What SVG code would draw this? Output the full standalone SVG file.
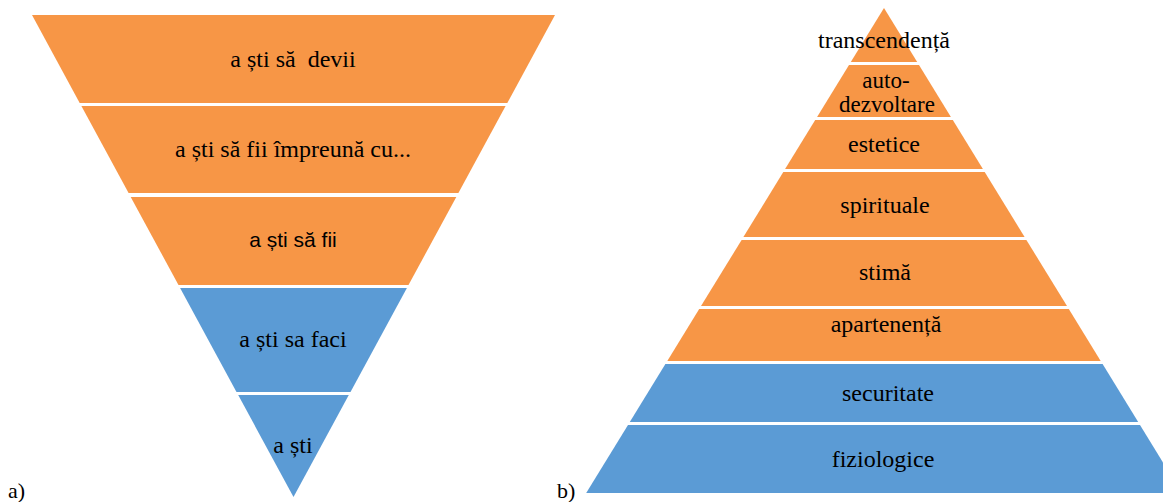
<svg xmlns="http://www.w3.org/2000/svg" width="1163" height="502" viewBox="0 0 1163 502">
<style>
.o{fill:#F79646}
.b{fill:#5B9BD5}
text{font-family:"Liberation Serif","Times New Roman",serif;font-size:24px;fill:#000;text-anchor:middle}
.sans{font-family:"Liberation Sans",Arial,sans-serif;font-size:21px}
.sm{font-size:23px}
.lab{text-anchor:start;font-size:22px}
</style>
<rect width="1163" height="502" fill="#fff"/>
<g id="connectors"/>
<g id="left-pyramid">
<g id="l1"><polygon class="o" points="32,15 555,15 507.3,103 79.7,103"/><text x="293" y="67" xml:space="preserve">a ști să  devii</text></g>
<g id="l2"><polygon class="o" points="81.4,106 505.6,106 458.4,193 128.6,193"/><text x="293" y="157">a ști să fii împreună cu...</text></g>
<g id="l3"><polygon class="o" points="130.7,197 456.3,197 408.5,285 178.5,285"/><text class="sans" x="293" y="247">a ști să fii</text></g>
<g id="l4"><polygon class="b" points="180.1,288 406.9,288 350.5,392 236.5,392"/><text x="293" y="347">a ști sa faci</text></g>
<g id="l5"><polygon class="b" points="238.2,395 348.8,395 293.5,497"/><text x="293" y="453">a ști</text></g>
</g>
<g id="right-pyramid">
<g id="r1"><polygon class="o" points="884,8 917.2,62 850.8,62"/><text x="884" y="48">transcendență</text></g>
<g id="r2"><polygon class="o" points="849,65 919,65 950.9,117 817.1,117"/><text class="sm" x="886" y="88">auto-</text><text class="sm" x="887" y="112">dezvoltare</text></g>
<g id="r3"><polygon class="o" points="815.2,120 952.8,120 982.9,169 785.1,169"/><text x="884" y="152">estetice</text></g>
<g id="r4"><polygon class="o" points="783.3,172 984.7,172 1024.6,237 743.4,237"/><text x="885" y="213">spirituale</text></g>
<g id="r5"><polygon class="o" points="741.6,240 1026.4,240 1067,306 701,306"/><text x="885" y="280">stimă</text></g>
<g id="r6"><polygon class="o" points="699.2,309 1068.8,309 1100.7,361 667.3,361"/><text x="886" y="332">apartenență</text></g>
<g id="r7"><polygon class="b" points="665.4,364 1102.6,364 1138.2,422 629.8,422"/><text x="888" y="401">securitate</text></g>
<g id="r8"><polygon class="b" points="628,425 1140,425 1181.8,493 586.2,493"/><text x="883" y="467">fiziologice</text></g>
</g>
<text class="lab" x="8" y="498">a)</text>
<text class="lab" x="557" y="498">b)</text>
</svg>
